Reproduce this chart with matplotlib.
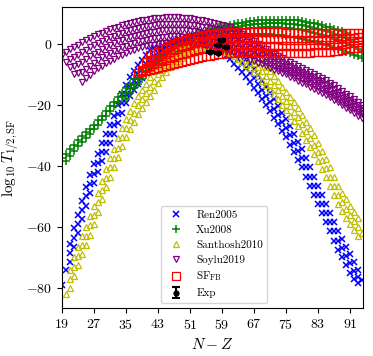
import numpy as np
import matplotlib
matplotlib.use('Agg')
import matplotlib.pyplot as plt

plt.rcParams['font.family'] = 'serif'
plt.rcParams['font.serif'] = ['cmr10']
plt.rcParams['mathtext.fontset'] = 'cm'
plt.rcParams['axes.formatter.use_mathtext'] = True

# log10 T_1/2 (SF), one list per band row,
# one value per integer N-Z starting at the given start

# Ren2005
ren_start = [21, 19, 21]
ren_upper = [-65.5, -60.5, -56, -51.5, -47, -43, -39.5, -36, -32.5, -29.5, -26.5, -23.5, -20, -16.5, -13.5, -11, -9,
             -7, -5.2, -3.5, -2, -1.2, -1.5, -0.8, 0, 0.5, 1, 1.5, 2, 2.3, 2.5, 2.7, 2.8, 2.8, 2.6, 2.3, 1.8, 1, 0.3,
             -0.3, -0.8, -1.2, -2.2, -3.3, -4.8, -6.5, -8.3, -10.2, -12, -14, -16, -18.2, -20.3, -22.5, -24.5, -27,
             -29.5, -32, -34.5, -37.5, -40.5, -43.5, -46.5, -49.5, -52.5, -55.5, -58.5, -61.5, -64, -66.5, -69, -71.5,
             -74]
ren_mid = [-79, -74, -68.5, -63.5, -59, -54.5, -50, -46, -42.5, -39, -35.5, -32.5, -29.5, -26.5, -23, -19.5, -16.5,
           -14, -12, -10, -8.2, -6.5, -5, -4, -3, -2, -1, -0.5, 0, 0.5, 1, 1.3, 1.5, 1.7, 1.8, 1.8, 1.6, 1.3, 0.8, 0,
           -0.7, -1.5, -2.5, -3.5, -5, -6.3, -7.8, -9.5, -11.3, -13.2, -15, -17, -19, -21.2, -23.3, -25.5, -27.5, -30,
           -32.5, -35, -37.5, -40.5, -43.5, -46.5, -49.5, -52.5, -55.5, -58.5, -61.5, -64.5, -67, -69.5, -72, -74.5,
           -76.5, -77.5]
ren_lower = [-71.5, -66.5, -62, -57.5, -53, -49, -45.5, -42, -38.5, -35.5, -32.5, -29.5, -26, -22.5, -19.5, -17, -15,
             -13, -11.2, -9.5, -8, -6.5, -5.2, -4, -3, -2.5, -2, -1.5, -1, -0.7, -0.5, -0.3, -0.2, -0.2, -0.4, -0.7,
             -1.2, -2, -2.9, -3.9, -5.1, -6.5, -8, -9.3, -10.8, -12.5, -14.3, -16.2, -18, -20, -22, -24.2, -26.3,
             -28.5, -30.5, -33, -35.5, -38, -40.5, -43.5, -46.5, -49.5, -52.5, -55.5, -58.5, -61.5, -64.5, -67.5, -70,
             -72.5, -75, -77, -78.5]

# Xu2008
xu_start = [19, 20, 35, 55]
xu_r1 = [-37.5, -36, -34.5, -33, -31.5, -30.2, -29, -27.8, -26.5, -25, -23.5, -22, -20.5, -19, -17.5, -16, -14.5,
         -13, -11.5, -10.2, -9, -7.7, -6.5, -5.5, -4.5, -3.5, -2.5, -1.6, -0.8, 0, 0.7, 1.4, 2, 2.6, 3.2, 3.7, 4.1,
         4.6, 5, 5.4, 5.7, 6, 6.3, 6.6, 6.8, 7, 7.2, 7.4, 7.5, 7.7, 7.8, 7.9, 7.9, 8, 8, 8, 8, 7.9, 7.8, 7.7, 7.5,
         7.3, 7, 6.7, 6.4, 6.1, 5.7, 5.4, 5, 4.6, 4.2, 3.6, 3]
xu_r2 = [-38.5, -36.7, -35, -33.5, -32, -30.7, -29.5, -28, -26.5, -25, -23.5, -22, -20.5, -19, -17.5, -16, -14.5,
         -13, -11.5, -10.2, -9, -8, -7, -6, -5, -4.1, -3.2, -2.4, -1.7, -1, -0.4, 0.2, 0.8, 1.3, 1.8, 2.2, 2.6, 3,
         3.3, 3.6, 3.9, 4.2, 4.4, 4.6, 4.8, 5, 5.1, 5.2, 5.3, 5.4, 5.4, 5.4, 5.4, 5.4, 5.3, 5.2, 5.1, 5, 4.8, 4.6,
         4.3, 4, 3.7, 3.4, 3, 2.6, 2.2, 1.7, 1.2, 0.7, 0.2, -0.4, -1, -1.6, -2.3]
xu_r3 = [-18, -16.2, -14.5, -13, -11.5, -10.2, -9, -8, -7, -6.1, -5.2, -4.4, -3.6, -2.9, -2.2, -1.6, -1, -0.5, 0,
         0.5, 0.9, 1.3, 1.6, 1.9, 2.2, 2.4, 2.6, 2.8, 2.9, 3, 3.1, 3.2, 3.2, 3.2, 3.2, 3.2, 3.1, 3, 2.9, 2.8, 2.6,
         2.4, 2.2, 2, 1.7, 1.4, 1.1, 0.8, 0.4, 0, -0.4, -0.8, -1.2, -1.6, -2, -2.5, -3, -3.5, -4, -4.6]
xu_r4 = [3.2, 3.6, 4, 4.4, 4.7, 5, 5.3, 5.5, 5.7, 5.9, 6.1, 6.3, 6.4, 6.5, 6.6, 6.7, 6.7, 6.7, 6.7, 6.7, 6.6, 6.5,
         6.4, 6.3, 6.1, 5.8, 5.5, 5.2, 4.9, 4.6, 4.2, 3.8, 3.4, 2.9, 2.5, 1.9, 1.3, 0.6]

# Santhosh2010
san_start = [21, 20, 21]
san_upper = [-74, -70, -66.5, -63, -60, -56.5, -53, -49, -45, -41, -37.5, -34.5, -31, -27.5, -24.5, -22, -19.5, -17,
             -15, -13, -11, -9, -7.3, -6, -4.8, -3.5, -2.5, -1.5, -0.5, 0.3, 1, 1.5, 2, 2.3, 2.5, 2.5, 2.4, 2.2, 1.8,
             1.4, 1, 0.7, 0.2, -0.6, -1.4, -2.3, -3.4, -4.6, -6, -7.5, -9, -10.5, -12.2, -14, -15.7, -17.5, -19.2,
             -21, -23.2, -25.5, -27.7, -30, -32.5, -35, -37.7, -40.5, -43.5, -46.5, -48.8, -51, -53, -55, -57]
san_mid = [-82, -77, -73, -69.5, -66, -63, -59.5, -56, -52, -48, -44, -40.5, -37.5, -34, -30.5, -27.5, -25, -22.5,
           -20, -18, -16, -14, -12, -10, -8.5, -7, -5.5, -4.5, -3.5, -2.5, -1.7, -1, -0.5, 0, 0.3, 0.5, 0.5, 0.4, 0.2,
           -0.2, -0.6, -1, -1.5, -2.2, -3, -4, -5, -6.2, -7.5, -9, -10.5, -12, -13.5, -15.2, -17, -18.7, -20.5, -22.2,
           -24, -26.2, -28.5, -30.7, -33, -35.5, -38, -40.7, -43.5, -46.5, -49.5, -51.8, -54, -56, -58, -60, -62]
san_lower = [-80, -76, -72.5, -69, -66, -62.5, -59, -55, -51, -47, -43.5, -40.5, -37, -33.5, -30.5, -28, -25.5, -23,
             -21, -19, -17, -15, -12.8, -11, -9.3, -7.7, -6.5, -5.5, -4.5, -3.7, -3, -2.5, -2, -1.7, -1.5, -1.5, -1.6,
             -1.8, -2.2, -2.7, -3.2, -3.9, -4.8, -5.8, -7, -8, -9.2, -10.5, -12, -13.5, -15, -16.5, -18.2, -20, -21.7,
             -23.5, -25.2, -27, -29.2, -31.5, -33.7, -36, -38.5, -41, -43.7, -46.5, -49.5, -52.5, -54.8, -57, -59, -61,
             -63]

# Soylu2019
soy_start = [19, 20, 21, 22, 24]
soy_r1 = [-3.5, -2.6, -1.8, -1.0, -0.2, 0.5, 1.2, 1.9, 2.6, 3.2, 3.7, 4.3, 4.8, 5.2, 5.7, 6.1, 6.5, 6.9, 7.2, 7.5, 7.8,
          8.0, 8.2, 8.4, 8.5, 8.6, 8.7, 8.7, 8.7, 8.7, 8.6, 8.5, 8.4, 8.2, 8.0, 7.8, 7.5, 7.2, 6.9, 6.6, 6.2, 5.8,
          5.4, 4.7, 4.0, 3.3, 2.5, 1.8, 1.0, 0.1, -0.8, -1.7, -2.5, -3.2, -4.0, -4.7, -5.4, -6.0, -6.7, -7.4, -8.0,
          -8.6, -9.2, -9.8, -10.5, -11.1, -11.8, -12.7, -13.6, -14.5, -15.4, -16.3, -17.2, -18.1, -19.0, -20.0]
soy_r2 = [-5.8, -5.1, -4.4, -3.6, -2.8, -1.9, -1.1, -0.3, 0.4, 1.0, 1.6, 2.2, 2.7, 3.2, 3.7, 4.2, 4.6, 4.9, 5.2, 5.5,
          5.8, 6.0, 6.2, 6.4, 6.5, 6.6, 6.6, 6.6, 6.6, 6.5, 6.4, 6.3, 6.1, 5.9, 5.7, 5.4, 5.1, 4.8, 4.5, 4.2, 3.8,
          3.3, 2.7, 2.1, 1.4, 0.7, 0.0, -0.7, -1.5, -2.3, -3.1, -3.8, -4.5, -5.2, -5.9, -6.6, -7.2, -7.9, -8.5, -9.2,
          -9.8, -10.4, -11.0, -11.7, -12.3, -13.1, -13.9, -14.8, -15.7, -16.6, -17.5, -18.4, -19.2, -20.1, -21.0]
soy_r3 = [-7.5, -7.1, -6.7, -5.9, -5.0, -4.1, -3.2, -2.5, -1.7, -1.0, -0.4, 0.2, 0.8, 1.3, 1.8, 2.2, 2.6, 3.0, 3.4,
          3.6, 3.8, 4.0, 4.2, 4.4, 4.5, 4.6, 4.6, 4.6, 4.5, 4.4, 4.3, 4.1, 3.9, 3.7, 3.4, 3.1, 2.8, 2.5, 2.1, 1.7,
          1.3, 0.8, 0.2, -0.4, -1.0, -1.7, -2.3, -3.0, -3.7, -4.5, -5.2, -5.9, -6.5, -7.1, -7.7, -8.4, -9.0, -9.7,
          -10.3, -11.0, -11.6, -12.3, -12.9, -13.6, -14.3, -15.1, -16.0, -16.9, -17.7, -18.6, -19.5, -20.4, -21.2,
          -22.1]
soy_r4 = [-10.0, -9.6, -9.2, -8.1, -7.1, -6.1, -5.2, -4.4, -3.6, -2.9, -2.3, -1.7, -1.1, -0.6, -0.1, 0.4, 0.8, 1.1,
          1.4, 1.7, 1.9, 2.1, 2.3, 2.4, 2.5, 2.5, 2.5, 2.4, 2.3, 2.2, 2.0, 1.8, 1.6, 1.3, 1.0, 0.7, 0.4, 0.1, -0.2,
          -0.7, -1.2, -1.7, -2.2, -2.8, -3.4, -4.0, -4.6, -5.3, -5.9, -6.6, -7.2, -7.8, -8.3, -8.9, -9.5, -10.2,
          -10.8, -11.5, -12.1, -12.8, -13.5, -14.2, -14.8, -15.6, -16.3, -17.2, -18.0, -18.9, -19.8, -20.7, -21.5,
          -22.3, -23.1]
soy_r5 = [-12.5, -11.3, -10.1, -9.0, -8.0, -7.1, -6.3, -5.5, -4.8, -4.1, -3.5, -2.9, -2.4, -1.9, -1.5, -1.1, -0.8,
          -0.5, -0.2, 0, 0.2, 0.3, 0.4, 0.5, 0.5, 0.4, 0.3, 0.2, 0, -0.2, -0.4, -0.7, -1.0, -1.3, -1.6, -1.9, -2.2,
          -2.7, -3.1, -3.6, -4.1, -4.6, -5.2, -5.7, -6.2, -6.7, -7.3, -7.9, -8.5, -9.0, -9.5, -10.0, -10.7, -11.3,
          -12.0, -12.7, -13.3, -14.0, -14.7, -15.3, -16.0, -16.8, -17.5, -18.3, -19.2, -20.1, -21.0, -21.8, -22.7,
          -23.5, -24.2]

# SF_FB
sf_start = [41, 40, 39, 38]
sf_r1 = [-3.5, -3, -2.5, -1.8, -1.2, -0.6, 0, 0.5, 1, 1.4, 1.8, 2.1, 2.4, 2.7, 2.9, 3.1, 3.3, 3.5, 3.6, 3.7, 3.8,
         3.9, 3.9, 3.9, 3.9, 3.9, 3.9, 3.9, 3.9, 3.9, 3.9, 3.9, 3.8, 3.8, 3.7, 3.7, 3.6, 3.6, 3.6, 3.5, 3.5, 3.5,
         3.5, 3.5, 3.5, 3.5, 3.5, 3.5, 3.6, 3.6, 3.6, 3.6, 3.6, 3.6]
sf_r2 = [-6, -5.4, -4.8, -4.3, -3.8, -3.2, -2.6, -2.1, -1.6, -1.1, -0.6, -0.2, 0.2, 0.5, 0.8, 1.1, 1.3, 1.5, 1.6,
         1.7, 1.8, 1.9, 1.9, 1.9, 1.9, 1.9, 1.8, 1.8, 1.7, 1.7, 1.6, 1.6, 1.5, 1.5, 1.4, 1.4, 1.3, 1.3, 1.3, 1.3,
         1.3, 1.3, 1.3, 1.3, 1.4, 1.4, 1.5, 1.6, 1.7, 1.8, 1.9, 2, 2.1, 2.2, 2.3]
sf_r3 = [-8.5, -7.9, -7.3, -6.7, -6.2, -5.7, -5.2, -4.7, -4.2, -3.7, -3.3, -2.9, -2.5, -2.1, -1.8, -1.5, -1.2, -0.9,
         -0.7, -0.5, -0.4, -0.3, -0.3, -0.3, -0.3, -0.3, -0.4, -0.4, -0.5, -0.5, -0.6, -0.6, -0.7, -0.7, -0.8, -0.8,
         -0.8, -0.8, -0.8, -0.8, -0.7, -0.7, -0.6, -0.5, -0.5, -0.4, -0.4, -0.3, -0.2, -0.1, 0, 0.1, 0.3, 0.4, 0.6]
sf_r4 = [-9.5, -9.2, -9, -8.6, -8.3, -7.9, -7.6, -7.3, -7, -6.6, -6.3, -5.9, -5.6, -5.2, -4.9, -4.6, -4.3, -4, -3.8,
         -3.6, -3.4, -3.2, -3.1, -3, -2.9, -2.8, -2.8, -2.8, -2.8, -2.8, -2.8, -2.9, -2.9, -3, -3, -3, -3, -3, -3,
         -3, -3, -3, -2.9, -2.9, -2.8, -2.7, -2.7, -2.6, -2.5, -2.3, -2.2, -2, -1.8, -1.6, -1.4, -1.2, -1]

# experiment
exp_nz = [56, 58, 58, 59, 60]
exp_t = [-2.6, -3.0, -0.5, 1.3, -1.0]
exp_err = [0.3, 0.3, 0.3, 0.3, 0.3]

xticks = [19, 27, 35, 43, 51, 59, 67, 75, 83, 91]


fig = plt.figure(figsize=(3.73, 3.56), dpi=100)
ax = fig.add_axes([0.1662, 0.1348, 0.807, 0.8455])


def rows(starts, ys, label, **kw):
    for i in range(len(ys)):
        x = starts[i] + np.arange(len(ys[i]))
        ax.plot(x, ys[i], ls='none', label=label if i == 0 else None, **kw)


rows(ren_start, [ren_upper, ren_mid, ren_lower], 'Ren2005',
     marker='x', color='b', ms=5, mew=1.1)
rows(xu_start, [xu_r1, xu_r2, xu_r3, xu_r4], 'Xu2008',
     marker='+', color='g', ms=5.5, mew=1.1)
rows(san_start, [san_upper, san_mid, san_lower], 'Santhosh2010',
     marker='^', color='y', mfc='none', ms=5, mew=0.9)
rows(soy_start, [soy_r1, soy_r2, soy_r3, soy_r4, soy_r5], 'Soylu2019',
     marker='v', color='purple', mfc='none', ms=5, mew=0.9)
rows(sf_start, [sf_r1, sf_r2, sf_r3, sf_r4], r'SF$_{\rm FB}$',
     marker='s', color='r', mfc='none', ms=6, mew=0.9)
ax.errorbar(exp_nz, exp_t, yerr=exp_err, fmt='o', color='k', ms=3.5,
            capsize=3, elinewidth=1.5, capthick=1.5, label='Exp')

ax.set_xlim(19, 94.25)
ax.set_ylim(-86.6, 12.1)
ax.set_xticks(xticks)
ax.set_yticks([-80, -60, -40, -20, 0])
ax.tick_params(labelsize=10)
ax.set_xlabel(r'$N-Z$', fontsize=11)
ax.set_ylabel(r'$\log_{10}T_{1/2,\mathrm{SF}}$', fontsize=11)

ax.legend(loc='lower center', bbox_to_anchor=(0.505, 0.017), borderaxespad=0,
          fontsize=8, handletextpad=0.8, labelspacing=0.45)

fig.savefig('out.png', dpi=100)
